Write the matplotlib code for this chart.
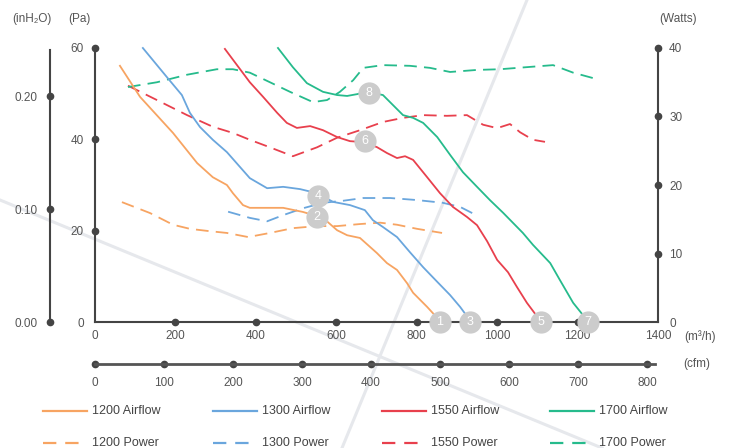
import numpy as np
import matplotlib
matplotlib.use("Agg")
import matplotlib.pyplot as plt
from matplotlib.lines import Line2D

plt.rcParams['font.family'] = ['Liberation Sans', 'DejaVu Sans']

# airflow curves: (m3/h, Pa)
af1200_x = [62, 112, 194, 254, 293, 328, 343, 368, 385, 468, 517, 567, 602, 627, 659, 701, 726, 751, 776, 791, 826, 851, 858]
af1200_y = [56.1, 49.3, 41.4, 34.8, 31.7, 30.0, 28.2, 25.6, 25.0, 25.0, 24.1, 22.8, 20.1, 19.0, 18.4, 15.1, 12.9, 11.4, 8.5, 6.4, 3.3, 0.9, 0]
af1300_x = [119, 179, 216, 236, 261, 293, 328, 361, 385, 428, 468, 510, 552, 592, 634, 671, 691, 716, 751, 783, 816, 851, 883, 908, 928, 933]
af1300_y = [60, 53.6, 49.7, 45.8, 42.7, 39.9, 37.2, 33.9, 31.5, 29.3, 29.6, 29.1, 28.2, 26.3, 25.6, 24.5, 22.3, 20.8, 18.6, 15.3, 12.0, 8.8, 5.9, 3.3, 0.9, 0]
af1550_x = [323, 385, 418, 453, 477, 502, 535, 567, 602, 634, 666, 701, 726, 751, 771, 791, 826, 858, 890, 925, 950, 975, 1000, 1027, 1049, 1074, 1102, 1109]
af1550_y = [59.8, 52.5, 49.3, 45.8, 43.6, 42.5, 42.9, 42.0, 40.5, 39.6, 39.4, 38.3, 37.0, 35.9, 36.3, 35.5, 31.7, 28.2, 25.2, 23.0, 21.2, 17.7, 13.6, 10.9, 7.7, 4.2, 0.9, 0]
af1700_x = [455, 492, 527, 567, 602, 627, 652, 676, 716, 741, 766, 791, 816, 851, 883, 915, 950, 982, 1015, 1064, 1089, 1132, 1156, 1189, 1219, 1226]
af1700_y = [60, 55.8, 52.3, 50.4, 49.7, 49.5, 49.9, 50.4, 49.7, 47.5, 45.3, 44.7, 43.6, 40.5, 36.6, 32.8, 29.6, 26.7, 23.9, 19.5, 16.9, 12.9, 9.2, 4.2, 0.9, 0]

# power curves: (m3/h, Watts)
pw1200_x = [67, 137, 194, 236, 279, 328, 381, 435, 492, 552, 602, 659, 709, 751, 801, 863]
pw1200_y = [17.5, 15.9, 14.2, 13.6, 13.3, 13.0, 12.4, 13.0, 13.7, 14.0, 14.0, 14.3, 14.5, 14.2, 13.6, 13.0]
pw1300_x = [331, 385, 428, 468, 517, 567, 617, 667, 734, 801, 865, 908, 938]
pw1300_y = [16.1, 15.2, 14.7, 15.6, 16.6, 17.4, 17.7, 18.1, 18.1, 17.8, 17.4, 16.8, 15.9]
pw1550_x = [82, 154, 229, 293, 343, 385, 435, 492, 552, 602, 659, 716, 766, 816, 875, 925, 965, 1000, 1032, 1057, 1089, 1119]
pw1550_y = [34.5, 32.4, 30.2, 28.5, 27.6, 26.6, 25.5, 24.2, 25.5, 26.9, 28.0, 29.2, 29.8, 30.2, 30.1, 30.2, 28.8, 28.3, 28.9, 27.7, 26.6, 26.3]
pw1700_x = [82, 154, 229, 303, 343, 385, 435, 485, 542, 577, 609, 642, 667, 716, 783, 833, 883, 950, 1007, 1139, 1189, 1239]
pw1700_y = [34.3, 35.0, 36.1, 36.9, 36.9, 36.4, 35.0, 33.6, 32.1, 32.4, 33.6, 35.3, 37.1, 37.5, 37.4, 37.1, 36.5, 36.8, 36.9, 37.5, 36.4, 35.6]

# numbered markers
badge_num = ['1', '2', '3', '4', '5', '6', '7', '8']
badge_x = [858, 552, 933, 555, 1109, 671, 1226, 681]
badge_y = [0, 23.0, 0, 27.6, 0, 39.6, 0, 50.1]

names = ['1200', '1300', '1550', '1700']
colors = ['#f7a462', '#6aa6dd', '#e8404d', '#26bb8c']

pa_ticks = [0, 20, 40, 60]
in_ticks = [0.0, 0.1, 0.2]
w_ticks = [0, 10, 20, 30, 40]
m3h_ticks = [0, 200, 400, 600, 800, 1000, 1200, 1400]
cfm_ticks = [0, 100, 200, 300, 400, 500, 600, 700, 800]

axis_col = '#444444'
text_col = '#555555'
fs = 8.5

fig = plt.figure(figsize=(7.29, 4.48), dpi=100)
W, H = 729, 448

# faint background diagonals
fig.add_artist(Line2D([0, 602 / W], [1 - 200 / H, 0], color='#e6e8ec', lw=2.2, zorder=0))
fig.add_artist(Line2D([527 / W, 342 / W], [1, 0], color='#e6e8ec', lw=2.2, zorder=0))

ax = fig.add_axes([95 / W, 1 - 322 / H, 563 / W, 274 / H])
ax.patch.set_alpha(0)
ax.set_xlim(0, 1400)
ax.set_ylim(0, 60)
for s in ['top', 'right']:
    ax.spines[s].set_visible(False)
for s in ['left', 'bottom']:
    ax.spines[s].set_color(axis_col)
    ax.spines[s].set_linewidth(1.5)
ax.set_xticks(m3h_ticks)
ax.set_yticks(pa_ticks)
ax.tick_params(length=0, colors=text_col, labelsize=fs)
ax.tick_params(axis='x', pad=6)
ax.tick_params(axis='y', pad=8)
ax.plot(m3h_ticks[1:-1], [0] * 6, 'o', color=axis_col, ms=4.5, clip_on=False, zorder=5)
ax.plot([0] * 3, pa_ticks[1:], 'o', color=axis_col, ms=4.5, clip_on=False, zorder=5)

# watts axis
axw = ax.twinx()
axw.set_ylim(0, 40)
for s in ['top', 'left', 'bottom']:
    axw.spines[s].set_visible(False)
axw.spines['right'].set_color(axis_col)
axw.spines['right'].set_linewidth(1.5)
axw.set_yticks(w_ticks)
axw.tick_params(length=0, colors=text_col, labelsize=fs, pad=8)
axw.plot([1400] * 4, w_ticks[1:], 'o', color=axis_col, ms=4.5, clip_on=False, zorder=5)

# inH2O axis
axi = fig.add_axes([50 / W, 1 - 322 / H, 0.001, 272 / H])
axi.patch.set_alpha(0)
axi.set_ylim(0, 60 / 249.09)
axi.set_xlim(0, 1)
for s in ['top', 'right', 'bottom']:
    axi.spines[s].set_visible(False)
axi.spines['left'].set_color(axis_col)
axi.spines['left'].set_linewidth(1.5)
axi.set_xticks([])
axi.set_yticks(in_ticks)
axi.set_yticklabels(['0.00', '0.10', '0.20'])
axi.tick_params(length=0, colors=text_col, labelsize=fs, pad=9)
axi.plot([0] * 3, in_ticks, 'o', color=axis_col, ms=4.5, clip_on=False)

# cfm axis
axc = fig.add_axes([95 / W, 1 - 364 / H, 560 / W, 0.001])
axc.patch.set_alpha(0)
axc.set_xlim(0, 811.6)
axc.set_ylim(0, 1)
for s in ['top', 'right', 'left']:
    axc.spines[s].set_visible(False)
axc.spines['bottom'].set_color('#555555')
axc.spines['bottom'].set_linewidth(2)
axc.set_yticks([])
axc.set_xticks(cfm_ticks)
axc.tick_params(length=0, colors=text_col, labelsize=fs, pad=9)
axc.plot(cfm_ticks, [0] * 9, 'o', color=axis_col, ms=4.5, clip_on=False)

# curves
airflow = [(af1200_x, af1200_y), (af1300_x, af1300_y), (af1550_x, af1550_y), (af1700_x, af1700_y)]
power = [(pw1200_x, pw1200_y), (pw1300_x, pw1300_y), (pw1550_x, pw1550_y), (pw1700_x, pw1700_y)]
for (x, y), c in zip(airflow, colors):
    ax.plot(x, y, color=c, lw=1.3, zorder=3, clip_on=False)
for (x, y), c in zip(power, colors):
    axw.plot(x, y, color=c, lw=1.3, dashes=(7, 4), zorder=3)

for n, x, y in zip(badge_num, badge_x, badge_y):
    ax.plot(x, y, 'o', color='#cccccc', ms=15, clip_on=False, zorder=6)
    ax.text(x, y, n, color='white', fontsize=9, ha='center', va='center', zorder=7)
# keep badges on top of watts axis lines
ax.set_zorder(axw.get_zorder() + 1)

# unit labels
fig.text(32 / W, 1 - 19 / H, '(inH\u2082O)', color=text_col, fontsize=fs, ha='center', va='center')
fig.text(79 / W, 1 - 19 / H, '(Pa)', color=text_col, fontsize=fs, ha='center', va='center')
fig.text(678 / W, 1 - 19 / H, '(Watts)', color=text_col, fontsize=fs, ha='center', va='center')
fig.text(700 / W, 1 - 337 / H, '(m\u00b3/h)', color=text_col, fontsize=fs, ha='center', va='center')
fig.text(697 / W, 1 - 364 / H, '(cfm)', color=text_col, fontsize=fs, ha='center', va='center')

# legend
col_x = [43, 213, 382, 550]
for i, (nm, c) in enumerate(zip(names, colors)):
    x0 = col_x[i]
    for row, (lab, dash) in enumerate([('Airflow', None), ('Power', (6, 4))]):
        yy = 1 - (411 + row * 32) / H
        ln = Line2D([x0 / W, (x0 + 44) / W], [yy, yy], color=c, lw=1.6)
        if dash:
            ln.set_dashes(dash)
        fig.add_artist(ln)
        fig.text((x0 + 49) / W, yy, nm + ' ' + lab, color='#444444', fontsize=9, va='center')

fig.savefig('out.png', dpi=100)
